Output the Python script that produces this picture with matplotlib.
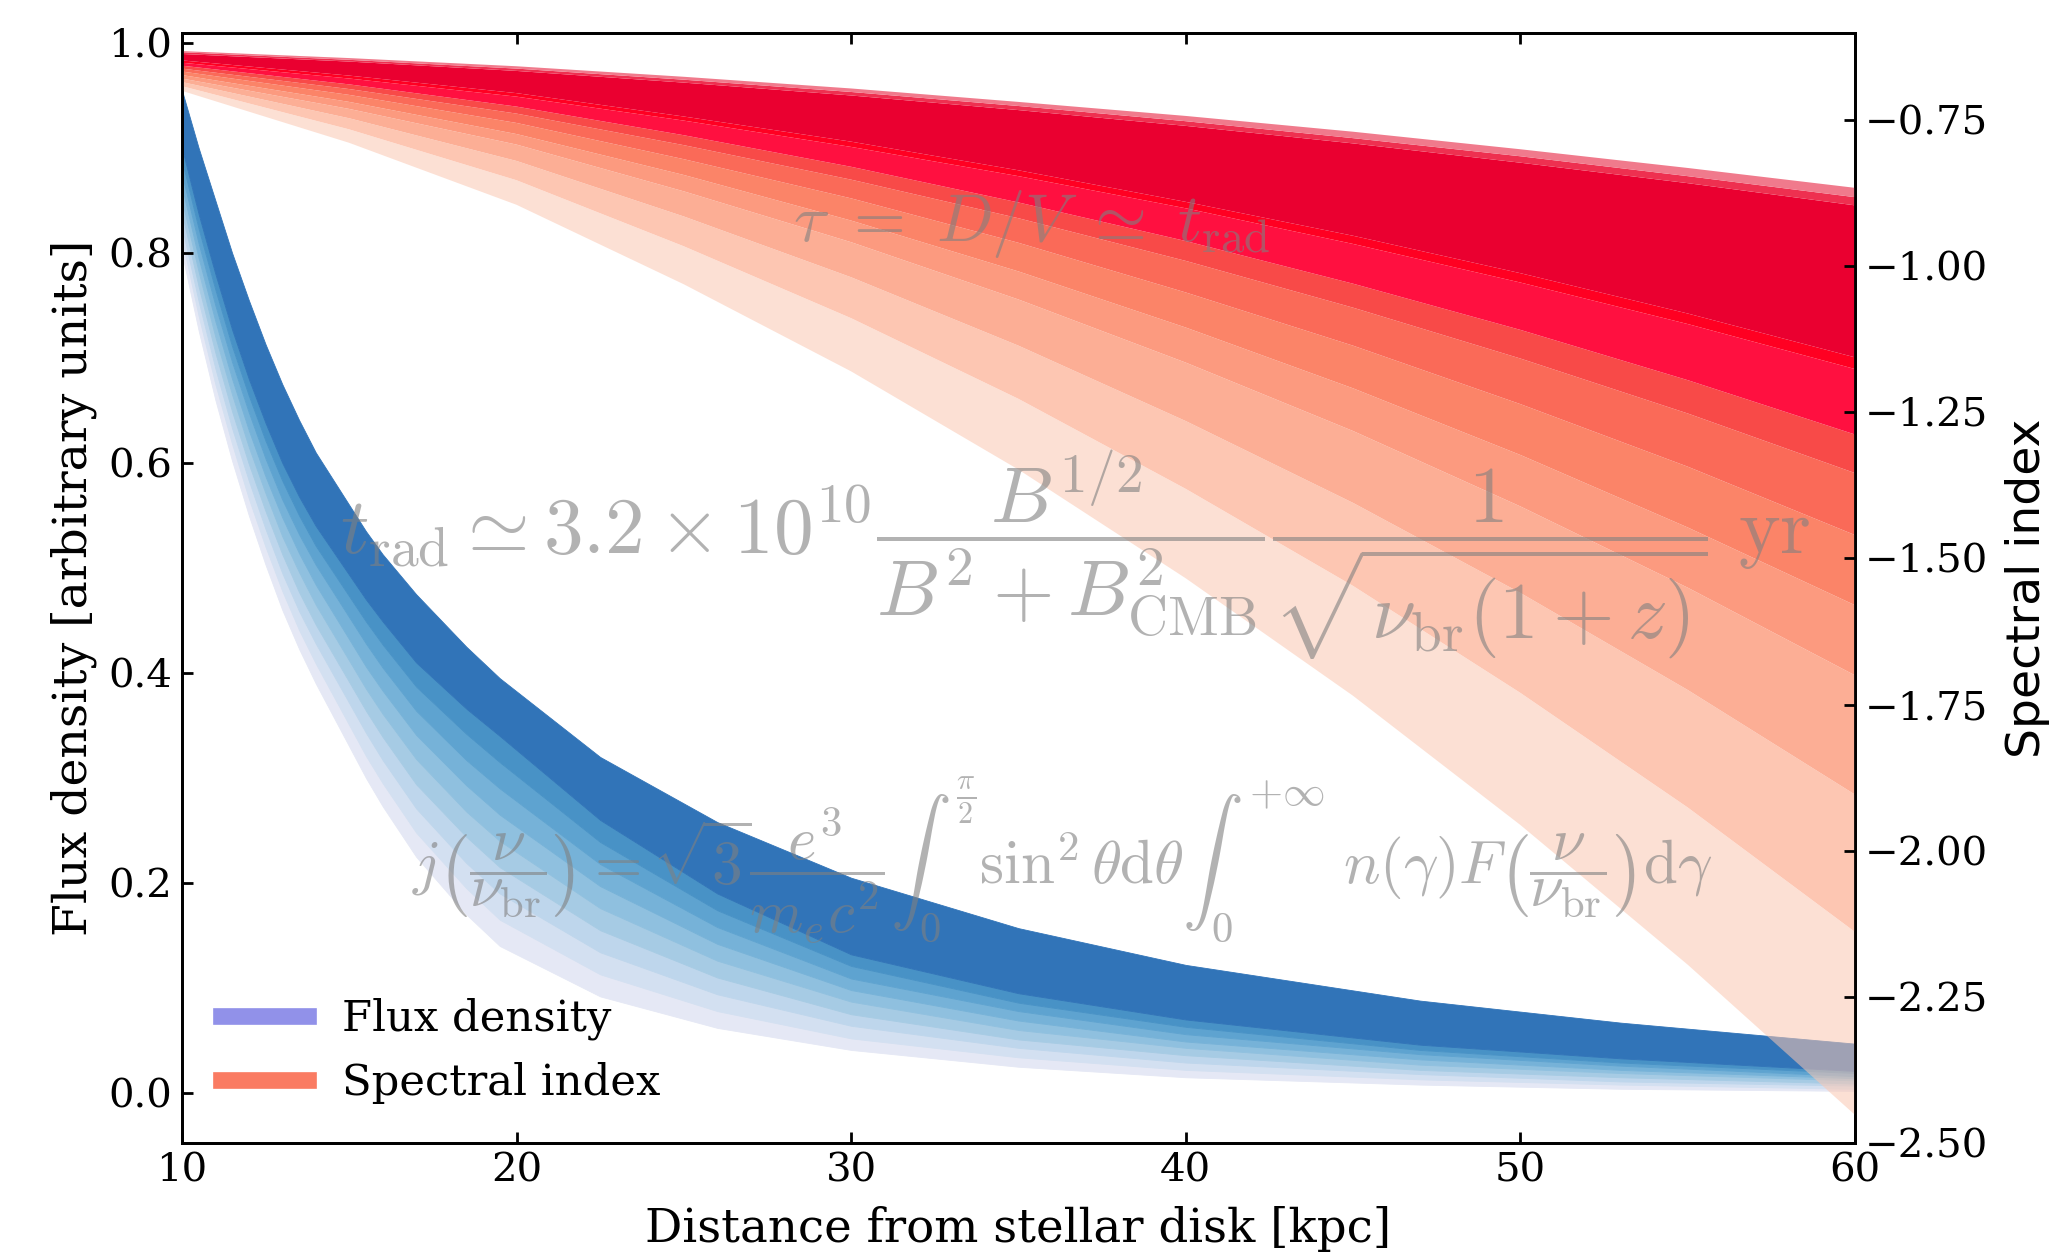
import matplotlib
matplotlib.use("Agg")
import matplotlib.pyplot as plt
from matplotlib.lines import Line2D

plt.rcParams['font.family'] = 'serif'
plt.rcParams['font.serif'] = ['DejaVu Serif']
plt.rcParams['mathtext.fontset'] = 'cm'

# distance grid (kpc) used for the flux density curves
x_flux = [10, 10.5, 11, 11.5, 12, 12.5, 13, 13.5, 14, 15.5, 16, 17, 18.5, 19.5,
          22.5, 26, 30, 35, 40, 47, 53, 60]

# flux density band edges, lowest (lightest) curve first, top of dark band last
flux_c0 = [0.800, 0.726, 0.660, 0.602, 0.550, 0.503, 0.460, 0.423, 0.390, 0.300, 0.273, 0.225, 0.170, 0.140, 0.092, 0.062, 0.041, 0.025, 0.015, 0.008, 0.004, 0.002]
flux_c1 = [0.813, 0.740, 0.675, 0.618, 0.566, 0.520, 0.478, 0.441, 0.409, 0.321, 0.295, 0.248, 0.195, 0.165, 0.113, 0.078, 0.052, 0.034, 0.022, 0.013, 0.008, 0.004]
flux_c2 = [0.825, 0.754, 0.690, 0.633, 0.583, 0.537, 0.495, 0.459, 0.428, 0.343, 0.317, 0.271, 0.219, 0.190, 0.134, 0.094, 0.064, 0.043, 0.029, 0.018, 0.011, 0.007]
flux_c3 = [0.838, 0.768, 0.705, 0.649, 0.599, 0.554, 0.513, 0.477, 0.446, 0.364, 0.339, 0.294, 0.244, 0.215, 0.155, 0.110, 0.075, 0.051, 0.036, 0.022, 0.015, 0.009]
flux_c4 = [0.850, 0.782, 0.720, 0.665, 0.615, 0.571, 0.530, 0.496, 0.465, 0.385, 0.361, 0.318, 0.268, 0.240, 0.176, 0.126, 0.087, 0.060, 0.043, 0.027, 0.019, 0.012]
flux_c5 = [0.863, 0.795, 0.735, 0.680, 0.631, 0.587, 0.548, 0.514, 0.484, 0.406, 0.383, 0.341, 0.293, 0.265, 0.197, 0.142, 0.098, 0.069, 0.049, 0.032, 0.022, 0.014]
flux_c6 = [0.875, 0.809, 0.750, 0.696, 0.648, 0.604, 0.565, 0.532, 0.503, 0.428, 0.405, 0.364, 0.317, 0.290, 0.218, 0.158, 0.109, 0.078, 0.056, 0.037, 0.026, 0.016]
flux_c7 = [0.888, 0.823, 0.765, 0.711, 0.664, 0.621, 0.583, 0.550, 0.521, 0.449, 0.427, 0.387, 0.342, 0.315, 0.239, 0.174, 0.121, 0.086, 0.063, 0.041, 0.029, 0.019]
flux_c8 = [0.900, 0.837, 0.780, 0.727, 0.680, 0.638, 0.600, 0.568, 0.540, 0.470, 0.449, 0.410, 0.366, 0.340, 0.260, 0.190, 0.132, 0.095, 0.070, 0.046, 0.033, 0.021]
flux_c9 = [0.955, 0.900, 0.850, 0.800, 0.755, 0.713, 0.675, 0.641, 0.610, 0.535, 0.513, 0.475, 0.425, 0.395, 0.320, 0.258, 0.205, 0.157, 0.122, 0.088, 0.067, 0.047]
flux_edges = [flux_c0, flux_c1, flux_c2, flux_c3, flux_c4, flux_c5, flux_c6, flux_c7, flux_c8, flux_c9]
flux_colors = ['#e5e8f5', '#d3e0f1', '#bed6ec', '#a6cbe4', '#8fc0df',
               '#76b2d8', '#5ea3d0', '#4892c6', '#3174b8']

# distance grid for the spectral index curves
x_index = [10, 15, 20, 25, 30, 35, 40, 45, 50, 55, 60]

# spectral index band edges, lowest curve first
index_r0 = [-0.700, -0.789, -0.895, -1.031, -1.180, -1.348, -1.534, -1.735, -1.956, -2.195, -2.452]
index_r1 = [-0.692, -0.766, -0.853, -0.966, -1.089, -1.227, -1.381, -1.547, -1.730, -1.926, -2.139]
index_r2 = [-0.685, -0.747, -0.820, -0.915, -1.019, -1.136, -1.265, -1.405, -1.559, -1.725, -1.904]
index_r3 = [-0.679, -0.731, -0.792, -0.872, -0.959, -1.057, -1.165, -1.282, -1.411, -1.550, -1.700]
index_r4 = [-0.673, -0.719, -0.774, -0.844, -0.922, -1.009, -1.105, -1.209, -1.323, -1.447, -1.580]
index_r5 = [-0.667, -0.707, -0.755, -0.817, -0.884, -0.960, -1.045, -1.136, -1.236, -1.343, -1.460]
index_r6 = [-0.662, -0.697, -0.739, -0.793, -0.852, -0.918, -0.991, -1.071, -1.158, -1.252, -1.354]
index_r7 = [-0.657, -0.689, -0.727, -0.776, -0.830, -0.891, -0.957, -1.030, -1.109, -1.195, -1.288]
index_r8 = [-0.652, -0.679, -0.710, -0.751, -0.796, -0.846, -0.901, -0.962, -1.028, -1.099, -1.176]
index_r9 = [-0.648, -0.674, -0.704, -0.744, -0.787, -0.836, -0.890, -0.948, -1.012, -1.081, -1.156]
index_r10 = [-0.637, -0.650, -0.666, -0.686, -0.708, -0.733, -0.760, -0.790, -0.823, -0.858, -0.896]
index_r11 = [-0.634, -0.647, -0.662, -0.681, -0.702, -0.726, -0.752, -0.781, -0.812, -0.846, -0.882]
index_r12 = [-0.632, -0.644, -0.658, -0.676, -0.696, -0.719, -0.743, -0.770, -0.800, -0.832, -0.866]
index_edges = [index_r0, index_r1, index_r2, index_r3, index_r4, index_r5, index_r6,
               index_r7, index_r8, index_r9, index_r10, index_r11, index_r12]
index_colors = ['#fbc7b1', '#fdc6b2', '#fcae95', '#fc9a7f', '#fb8468', '#fa6a58',
                '#f84a48', '#ff1040', '#ff0022', '#ea0030', '#ee3050', '#f07a8c']

eq_tau = r'$\tau\ =\ D/V\ \simeq\ t_{\rm rad}$'
eq_trad = (r'$t_{\rm rad} \simeq 3.2 \times 10^{10}\dfrac{B^{1/2}}{B^2 + B^2_{\rm CMB}}'
           r'\dfrac{1}{\sqrt{\nu_{\rm br}(1+z)}}\ {\rm yr}$')
eq_j = (r'$j\left(\dfrac{\nu}{\nu_{\rm br}}\right) = \sqrt{3}\dfrac{e^3}{m_e c^2}'
        r'\int_0^{\frac{\pi}{2}} \sin^2\theta {\rm d}\theta \int_0^{+\infty}\ '
        r'n(\gamma) F\left(\dfrac{\nu}{\nu_{\rm br}}\right) {\rm d}\gamma$')

fig = plt.figure(figsize=(10.3, 6.285), dpi=200)
ax = fig.add_axes([0.0883, 0.0907, 0.8122, 0.8831])
ax2 = ax.twinx()

for i in range(len(flux_colors)):
    ax.fill_between(x_flux, flux_edges[i], flux_edges[i + 1], facecolor=flux_colors[i],
                    edgecolor=flux_colors[i], lw=0.3)

for i in range(len(index_colors)):
    a = 0.55 if i == 0 else 1.0
    ax2.fill_between(x_index, index_edges[i], index_edges[i + 1], facecolor=index_colors[i],
                     edgecolor='none', lw=0, alpha=a)

ax.set_xlim(10, 60)
ax.set_ylim(-0.0476, 1.0095)
ax2.set_ylim(-2.5, -0.601)
ax.set_xticks([10, 20, 30, 40, 50, 60])
ax.set_yticks([0.0, 0.2, 0.4, 0.6, 0.8, 1.0])
ax2.set_yticks([-0.75, -1.0, -1.25, -1.5, -1.75, -2.0, -2.25, -2.5])

ax.tick_params(axis='both', direction='in', length=4, width=1, labelsize=14.5, top=True)
ax2.tick_params(axis='y', direction='in', length=4, width=1, labelsize=14.5)
for a_ in (ax, ax2):
    for s in a_.spines.values():
        s.set_linewidth(1.0)

ax.set_xlabel('Distance from stellar disk [kpc]', fontsize=16.8, labelpad=6)
ax.set_ylabel('Flux density [arbitrary units]', fontsize=17, labelpad=4)
ax2.set_ylabel('Spectral index', fontsize=17, family='DejaVu Sans', labelpad=6)

txt = dict(color='#808080', alpha=0.6, ha='center', va='center', transform=ax.transData, zorder=20)
ax2.text(35.4, 0.828, eq_tau, fontsize=24, **txt)
ax2.text(36.7, 0.512, eq_trad, fontsize=28.5, **txt)
ax2.text(36.3, 0.222, eq_j, fontsize=22, **txt)

handles = [Line2D([0], [0], color='#9191e9', lw=6),
           Line2D([0], [0], color='#fa7b62', lw=6)]
leg = ax2.legend(handles, ['Flux density', 'Spectral index'], loc='lower left',
                 frameon=False, fontsize=15.6, handlelength=2.0)
leg.set_zorder(30)

fig.savefig('out.png', dpi=200)
